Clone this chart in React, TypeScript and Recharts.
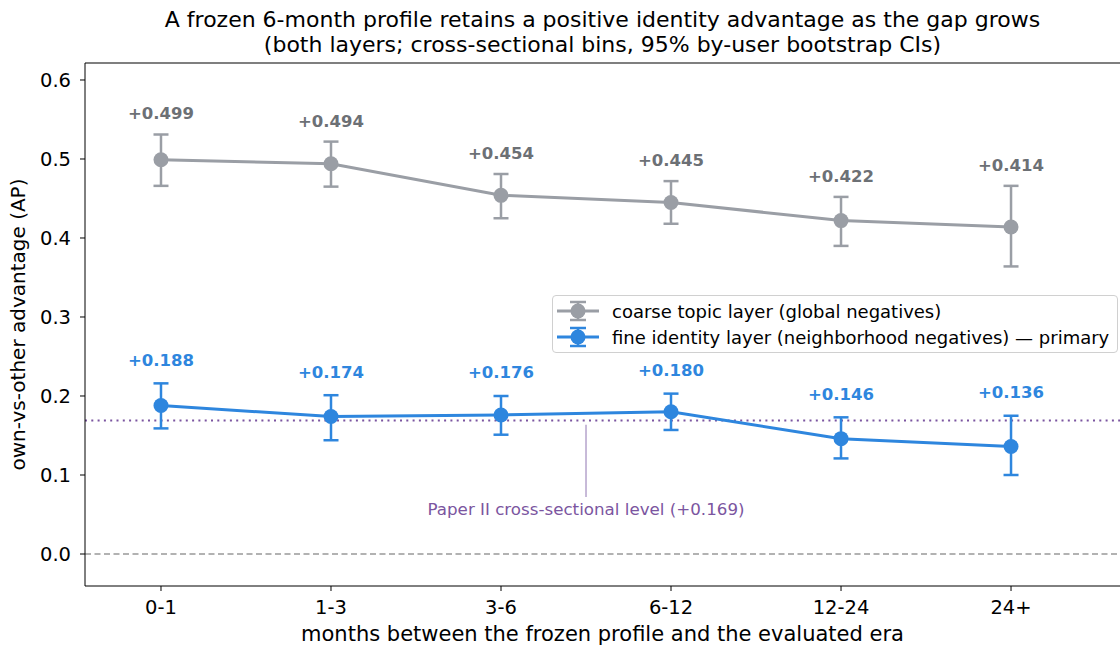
import {
  ComposedChart, Line, XAxis, YAxis, ErrorBar, ReferenceLine,
  ReferenceDot, LabelList, Legend,
} from "recharts";

const MONTH_BINS = ["0-1", "1-3", "3-6", "6-12", "12-24", "24+"];

const COARSE = [0.499, 0.494, 0.454, 0.445, 0.422, 0.414];
const COARSE_LO = [0.466, 0.465, 0.425, 0.418, 0.390, 0.364];
const COARSE_HI = [0.531, 0.522, 0.481, 0.472, 0.452, 0.466];

const FINE = [0.188, 0.174, 0.176, 0.180, 0.146, 0.136];
const FINE_LO = [0.159, 0.144, 0.151, 0.157, 0.121, 0.100];
const FINE_HI = [0.216, 0.201, 0.200, 0.203, 0.173, 0.175];

const PAPER_II_LEVEL = 0.169;
const Y_TICKS = [0, 0.1, 0.2, 0.3, 0.4, 0.5, 0.6];
const Y_DOMAIN = [-0.0405, 0.6215];
const X_DOMAIN = [-0.447, 5.641];

const GRAY = "#9a9ea5";
const GRAY_TEXT = "#6c7075";
const BLUE = "#2e86de";
const PURPLE = "#7b55a0";
const FONT = "DejaVu Sans, sans-serif";

const data = MONTH_BINS.map((bin, i) => ({
  x: i,
  bin,
  coarse: COARSE[i],
  coarseErr: [COARSE[i] - COARSE_LO[i], COARSE_HI[i] - COARSE[i]],
  coarseHi: COARSE_HI[i],
  fine: FINE[i],
  fineErr: [FINE[i] - FINE_LO[i], FINE_HI[i] - FINE[i]],
  fineHi: FINE_HI[i],
}));

const fmt = (v: number) => `+${v.toFixed(3)}`;

function valueLabel(values: number[], color: string, lift: number) {
  return (p: any) => (
    <text
      x={p.x}
      y={p.y - lift}
      textAnchor="middle"
      fill={color}
      fontSize={16.5}
      fontWeight="bold"
      fontFamily={FONT}
    >
      {fmt(values[p.index])}
    </text>
  );
}

function LegendIcon({ color }: { color: string }) {
  return (
    <svg width={42} height={26} style={{ display: "block" }}>
      <line x1={0} y1={13} x2={42} y2={13} stroke={color} strokeWidth={3} />
      <line x1={21} y1={4} x2={21} y2={22} stroke={color} strokeWidth={2.5} />
      <line x1={13} y1={4} x2={29} y2={4} stroke={color} strokeWidth={2.5} />
      <line x1={13} y1={22} x2={29} y2={22} stroke={color} strokeWidth={2.5} />
      <circle cx={21} cy={13} r={7.5} fill={color} />
    </svg>
  );
}

function LegendBox() {
  const rows = [
    { color: GRAY, text: "coarse topic layer (global negatives)" },
    { color: BLUE, text: "fine identity layer (neighborhood negatives) — primary" },
  ];
  return (
    <div
      style={{
        boxSizing: "border-box",
        width: 566,
        height: 58,
        border: "1px solid #d0d0d0",
        borderRadius: 4,
        background: "rgba(255,255,255,0.85)",
        padding: "2px 0 0 4px",
        fontFamily: FONT,
        fontSize: 18,
        color: "#000",
      }}
    >
      {rows.map((r) => (
        <div key={r.text} style={{ display: "flex", alignItems: "center", height: 26 }}>
          <LegendIcon color={r.color} />
          <span style={{ marginLeft: 13, whiteSpace: "nowrap" }}>{r.text}</span>
        </div>
      ))}
    </div>
  );
}

export default function App() {
  return (
    <div
      style={{
        position: "absolute",
        left: 0,
        top: 0,
        width: 1120,
        height: 646,
        background: "#fff",
        fontFamily: FONT,
        overflow: "hidden",
      }}
    >
      <div
        style={{
          position: "absolute",
          left: 85,
          width: 1035,
          top: 7,
          textAlign: "center",
          fontSize: 22,
          lineHeight: "25px",
          color: "#000",
          zIndex: 2,
          whiteSpace: "nowrap",
        }}
      >
        A frozen 6-month profile retains a positive identity advantage as the gap grows
        <br />
        (both layers; cross-sectional bins, 95% by-user bootstrap CIs)
      </div>

      <ComposedChart
        width={1120}
        height={646}
        data={data}
        margin={{ top: 63, right: 0, bottom: 0, left: 0 }}
      >
        <XAxis
          type="number"
          dataKey="x"
          domain={X_DOMAIN}
          ticks={[0, 1, 2, 3, 4, 5]}
          allowDataOverflow
          tickFormatter={(i: number) => MONTH_BINS[i]}
          height={60}
          stroke="#000"
          tickSize={5}
          tickMargin={9}
          tick={{ fill: "#000", fontSize: 19.5, fontFamily: FONT }}
          label={(p: any) => {
            const vb = p.viewBox;
            return (
              <text
                x={vb.x + vb.width / 2}
                y={vb.y + 55}
                textAnchor="middle"
                fontSize={21}
                fontFamily={FONT}
                fill="#000"
              >
                months between the frozen profile and the evaluated era
              </text>
            );
          }}
        />
        <YAxis
          type="number"
          domain={Y_DOMAIN}
          ticks={Y_TICKS}
          allowDataOverflow
          tickFormatter={(v: number) => v.toFixed(1)}
          width={85}
          stroke="#000"
          tickSize={5}
          tickMargin={9}
          tick={{ fill: "#000", fontSize: 19.5, fontFamily: FONT }}
          label={(p: any) => {
            const vb = p.viewBox;
            const cx = 25;
            const cy = vb.y + vb.height / 2;
            return (
              <text
                x={cx}
                y={cy}
                transform={`rotate(-90 ${cx} ${cy})`}
                textAnchor="middle"
                fontSize={20}
                fontFamily={FONT}
                fill="#000"
              >
                own-vs-other advantage (AP)
              </text>
            );
          }}
        />

        <ReferenceLine y={Y_DOMAIN[1]} stroke="#000" strokeWidth={1.2} />
        <ReferenceLine y={0} stroke="#999" strokeWidth={1.5} strokeDasharray="6 3.5" />
        <ReferenceLine
          y={PAPER_II_LEVEL}
          stroke={PURPLE}
          strokeWidth={1.8}
          strokeDasharray="2 4.3"
        />
        <ReferenceLine
          segment={[{ x: 2.5, y: 0.1635 }, { x: 2.5, y: 0.0722 }]}
          stroke="#a38cbf"
          strokeWidth={1.2}
        />
        <ReferenceDot
          x={2.5}
          y={0.057}
          r={0}
          shape={(p: any) => (
            <text
              x={p.cx}
              y={p.cy + 6}
              textAnchor="middle"
              fontSize={16.7}
              fontFamily={FONT}
              fill={PURPLE}
            >
              Paper II cross-sectional level (+0.169)
            </text>
          )}
        />

        <Line
          dataKey="coarse"
          stroke={GRAY}
          strokeWidth={3}
          dot={{ r: 7.5, fill: GRAY, stroke: "none" }}
          activeDot={false}
          isAnimationActive={false}
        >
          <ErrorBar dataKey="coarseErr" direction="y" width={7.5} stroke={GRAY} strokeWidth={2.5} isAnimationActive={false} />
        </Line>
        <Line
          dataKey="fine"
          stroke={BLUE}
          strokeWidth={3}
          dot={{ r: 7.5, fill: BLUE, stroke: "none" }}
          activeDot={false}
          isAnimationActive={false}
        >
          <ErrorBar dataKey="fineErr" direction="y" width={7.5} stroke={BLUE} strokeWidth={2.5} isAnimationActive={false} />
        </Line>

        <Line
          dataKey="coarseHi"
          stroke="none"
          dot={false}
          activeDot={false}
          legendType="none"
          isAnimationActive={false}
        >
          <LabelList dataKey="coarseHi" content={valueLabel(COARSE, GRAY_TEXT, 15)} />
        </Line>
        <Line
          dataKey="fineHi"
          stroke="none"
          dot={false}
          activeDot={false}
          legendType="none"
          isAnimationActive={false}
        >
          <LabelList dataKey="fineHi" content={valueLabel(FINE, BLUE, 17.5)} />
        </Line>

        <Legend
          layout="vertical"
          align="center"
          verticalAlign="middle"
          wrapperStyle={{ left: 552, top: 295, width: 566, height: 58 }}
          content={() => <LegendBox />}
        />
      </ComposedChart>
    </div>
  );
}
